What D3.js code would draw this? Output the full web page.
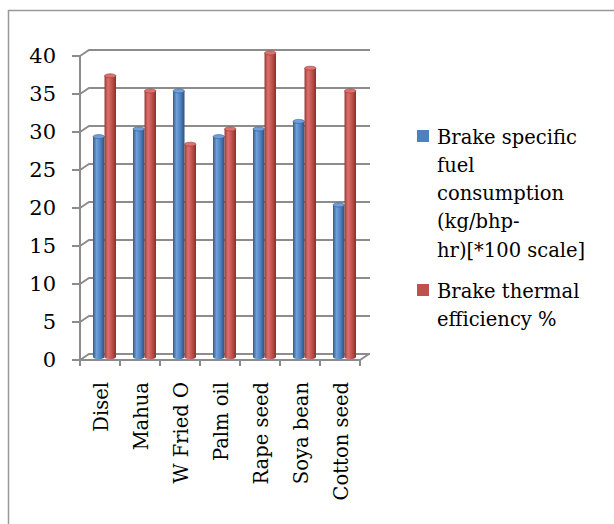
<!DOCTYPE html>
<html>
<head>
<meta charset="utf-8">
<script src="https://cdn.jsdelivr.net/npm/d3@7"></script>
<style>
  body { margin: 0; background: #fff; }
  svg { display: block; font-family: "DejaVu Serif", serif; }
</style>
</head>
<body>
<svg id="chart" width="614" height="524"></svg>
<script>
const categories = ["Disel", "Mahua", "W Fried O", "Palm oil", "Rape seed", "Soya bean", "Cotton seed"]
const bsfc = [29, 30, 35, 29, 30, 31, 20]
const bte = [37, 35, 28, 30, 40, 38, 35]
const seriesNames = ["bsfc", "bte"]
const yTicks = [0, 5, 10, 15, 20, 25, 30, 35, 40]
const legendLines = [
  ["Brake specific", "fuel", "consumption", "(kg/bhp-", "hr)[*100 scale]"],
  ["Brake thermal", "efficiency %"]
]
const colors = {
  bsfc: ["#2f5a92", "#6f9fdc", "#4f81bd", "#2c4f80"],
  bte: ["#973a37", "#dc716e", "#c0504d", "#8a2f2c"]
}
const legendColors = ["#4f81bd", "#c0504d"]

const svg = d3.select("#chart")

// outer frame (only left/top edges are in view)
svg.append("rect")
  .attr("x", 8.5).attr("y", 10.5)
  .attr("width", 800).attr("height", 800)
  .attr("fill", "none").attr("stroke", "#999").attr("stroke-width", 1.5)

// depth offset for the 3d look
const dx = 9, dy = -6

const x = d3.scaleBand().domain(categories).range([80, 360])
const x1 = d3.scaleBand().domain(seriesNames).range([8.5, 31.5])
const y = d3.scaleLinear().domain([0, 40]).range([360, 56])

const defs = svg.append("defs")
seriesNames.forEach(s => {
  let g = defs.append("linearGradient").attr("id", "grad-" + s)
    .attr("x1", "0%").attr("x2", "100%").attr("y1", "0%").attr("y2", "0%")
  let c = colors[s]
  g.append("stop").attr("offset", "0%").attr("stop-color", c[0])
  g.append("stop").attr("offset", "30%").attr("stop-color", c[1])
  g.append("stop").attr("offset", "65%").attr("stop-color", c[2])
  g.append("stop").attr("offset", "100%").attr("stop-color", c[3])
})

const grid = svg.append("g").attr("stroke", "#8c8c8c").attr("stroke-width", 2).attr("fill", "none")

// gridlines on back wall with diagonal side wall
yTicks.forEach(t => {
  grid.append("path")
    .attr("d", `M${x.range()[0]},${y(t)} L${x.range()[0] + dx},${y(t) + dy} L${x.range()[1] + dx + 1},${y(t) + dy}`)
  grid.append("line")
    .attr("x1", x.range()[0] - 8).attr("x2", x.range()[0])
    .attr("y1", y(t)).attr("y2", y(t))
})
grid.append("line")
  .attr("x1", x.range()[0]).attr("x2", x.range()[0])
  .attr("y1", y(0)).attr("y2", y(40))

// floor
grid.append("path")
  .attr("d", `M${x.range()[0]},${y(0)} L${x.range()[1]},${y(0)} L${x.range()[1] + dx},${y(0) + dy}`)

// category ticks
categories.concat([null]).forEach((c, i) => {
  let xx = c ? x(c) : x.range()[1]
  grid.append("line")
    .attr("x1", xx).attr("x2", xx)
    .attr("y1", y(0)).attr("y2", y(0) + 6)
})

// y labels
svg.append("g").selectAll("text")
  .data(yTicks)
  .join("text")
  .attr("x", 56)
  .attr("y", d => y(d))
  .attr("dy", "0.35em")
  .attr("text-anchor", "end")
  .attr("font-size", 21)
  .attr("fill", "#000")
  .text(d => d)

// bars as cylinders
const data = []
categories.forEach((c, i) => {
  data.push({ cat: c, s: "bsfc", v: bsfc[i] })
  data.push({ cat: c, s: "bte", v: bte[i] })
})

const bars = svg.append("g")
data.forEach(d => {
  let bx = x(d.cat) + x1(d.s) + dx / 2
  let bw = x1.bandwidth()
  let top = y(d.v) + dy / 2
  let bottom = y(0) + dy / 2
  let ry = 2
  let g = bars.append("g")
  g.append("path")
    .attr("d", `M${bx},${top} L${bx},${bottom} A${bw / 2},${ry} 0 0 0 ${bx + bw},${bottom} L${bx + bw},${top} Z`)
    .attr("fill", `url(#grad-${d.s})`)
  g.append("ellipse")
    .attr("cx", bx + bw / 2).attr("cy", top)
    .attr("rx", bw / 2).attr("ry", ry)
    .attr("fill", colors[d.s][1])
    .attr("stroke", colors[d.s][0]).attr("stroke-width", 0.6)
})

// category labels, rotated
svg.append("g").selectAll("text")
  .data(categories)
  .join("text")
  .attr("transform", d => `translate(${x(d) + x.bandwidth() / 2 + 1},382) rotate(-90)`)
  .attr("dy", "0.35em")
  .attr("text-anchor", "end")
  .attr("font-size", 19.5)
  .attr("fill", "#000")
  .text(d => d)

// legend
const legend = svg.append("g")
const legendTops = [130, 284]
legendLines.forEach((lines, i) => {
  legend.append("rect")
    .attr("x", 417).attr("y", legendTops[i])
    .attr("width", 12).attr("height", 12)
    .attr("fill", legendColors[i])
  lines.forEach((l, j) => {
    legend.append("text")
      .attr("x", 437)
      .attr("y", legendTops[i] + 13.5 + j * 28.3)
      .attr("font-size", 19.5)
      .attr("fill", "#000")
      .text(l)
  })
})
</script>
</body>
</html>
